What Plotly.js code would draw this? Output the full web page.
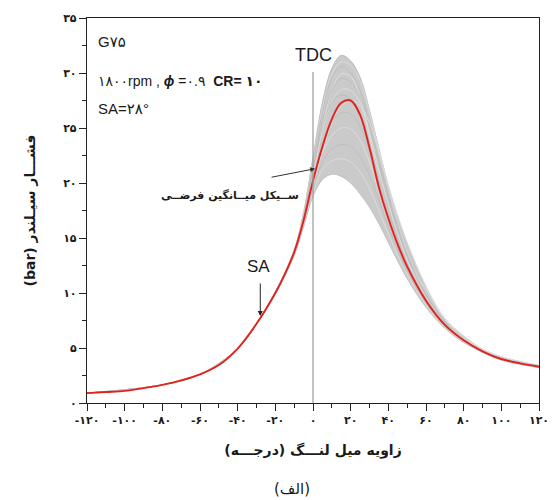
<!DOCTYPE html>
<html>
<head>
<meta charset="utf-8">
<script src="https://cdn.plot.ly/plotly-3.0.1.min.js"></script>
<style>html,body{margin:0;padding:0;background:#fff;}#chart{width:554px;height:500px;}</style>
</head>
<body>
<div id="chart"></div>
<script>
// ---- data ----
const angleMean = [-120,-110,-100,-90,-80,-70,-60,-50,-40,-30,-20,-15,-10,-5,0,5,10,15,20,25,30,35,40,45,50,60,70,80,90,100,110,120];
const pressureMean = [0.9,1.0,1.1,1.35,1.65,2.05,2.6,3.45,4.95,7.2,10.0,11.7,13.7,16.6,20.2,23.3,25.8,27.3,27.5,26.2,23.2,19.6,16.8,14.4,12.4,9.3,7.1,5.7,4.7,4.0,3.6,3.3];

const angleCycle = [-120,-80,-60,-40,-30,-20,-10,-5,0,5,10,15,20,25,30,35,40,45,50,60,70,80,90,100,120];
const cycle01 = [0.9,1.65,2.6,4.95,7.2,10.1,13.9,17.3,22.3,27.3,30.4,31.6,31.1,29.6,26.6,23.1,19.7,16.6,13.9,10.1,7.6,6.0,4.9,4.2,3.4];
const cycle02 = [0.9,1.65,2.6,4.95,7.2,10.1,13.8,17.1,22.0,26.8,29.9,31.0,30.7,29.3,26.4,23.0,19.6,16.5,13.8,10.0,7.6,6.0,4.9,4.2,3.4];
const cycle03 = [0.9,1.65,2.6,4.95,7.2,10.1,13.8,17.0,21.8,26.5,29.6,30.6,30.0,28.4,25.5,22.1,18.9,16.0,13.5,9.9,7.5,5.9,4.8,4.1,3.4];
const cycle04 = [0.9,1.65,2.6,4.95,7.2,10.0,13.7,16.6,20.6,25.0,28.4,29.9,29.7,27.8,24.2,20.6,17.3,14.5,12.8,10.3,7.7,6.1,4.9,4.2,3.4];
const cycle05 = [0.9,1.65,2.6,4.95,7.2,10.0,13.7,16.8,21.3,25.6,28.4,29.5,29.2,27.8,25.0,21.6,18.5,15.7,13.3,9.8,7.4,5.9,4.8,4.1,3.4];
const cycle06 = [0.9,1.65,2.6,4.95,7.2,10.0,13.7,16.6,20.8,24.8,27.4,28.5,28.4,27.3,24.6,21.2,18.1,15.4,13.0,9.6,7.3,5.8,4.8,4.1,3.3];
const cycle07 = [0.9,1.65,2.6,4.95,7.2,10.0,13.7,16.7,21.0,25.0,27.3,28.0,27.6,26.3,23.6,20.4,17.5,14.9,12.7,9.5,7.3,5.8,4.8,4.1,3.3];
const cycle08 = [0.9,1.65,2.6,4.95,7.2,10.0,13.6,16.4,20.0,23.0,25.5,27.0,27.5,27.0,25.5,22.8,19.8,17.0,14.6,10.6,7.6,5.9,4.8,4.1,3.3];
const cycle09 = [0.9,1.65,2.6,4.95,7.2,10.0,13.6,16.4,20.3,23.6,25.6,26.4,26.3,25.2,22.9,20.0,17.2,14.7,12.6,9.4,7.2,5.8,4.7,4.0,3.3];
const cycle10 = [0.9,1.65,2.6,4.95,7.2,10.0,13.6,16.3,19.8,22.7,24.3,25.0,24.9,23.9,21.9,19.2,16.6,14.3,12.3,9.2,7.1,5.7,4.7,4.0,3.3];
const cycle11 = [0.9,1.65,2.6,4.95,7.2,10.0,13.5,16.2,19.4,21.9,23.1,23.5,23.3,22.4,20.7,18.4,16.0,13.9,12.0,9.1,7.0,5.6,4.7,4.0,3.3];
const cycle12 = [0.9,1.65,2.6,4.95,7.2,9.9,13.5,16.1,19.1,21.2,22.0,22.2,21.9,21.0,19.5,17.5,15.4,13.4,11.7,8.9,6.9,5.6,4.6,3.9,3.3];
const cycle13 = [0.9,1.65,2.6,4.95,7.2,9.9,13.4,16.0,18.8,20.3,20.8,20.6,20.0,19.0,17.8,16.3,14.6,12.9,11.3,8.7,6.8,5.5,4.6,3.9,3.2];
const grayCycles = [cycle01,cycle02,cycle03,cycle04,cycle05,cycle06,cycle07,cycle08,cycle09,cycle10,cycle11,cycle12,cycle13];

const xTickValues = [-120,-100,-80,-60,-40,-20,0,20,40,60,80,100,120];
const xTickLabels = ['-۱۲۰','-۱۰۰','-۸۰','-۶۰','-۴۰','-۲۰','۰','۲۰','۴۰','۶۰','۸۰','۱۰۰','۱۲۰'];
const yTickValues = [0,5,10,15,20,25,30,35];
const yTickLabels = ['۰','۵','۱۰','۱۵','۲۰','۲۵','۳۰','۳۵'];

// ---- traces ----
const upperEnv = angleCycle.map((_, i) => Math.max(...grayCycles.map(c => c[i])));
const lowerEnv = angleCycle.map((_, i) => Math.min(...grayCycles.map(c => c[i])));

const traces = [];
traces.push({x: angleCycle, y: lowerEnv, mode: 'lines', line: {color: '#d6d6d6', width: 0.6, shape: 'spline'}, hoverinfo: 'skip', showlegend: false});
traces.push({x: angleCycle, y: upperEnv, mode: 'lines', fill: 'tonexty', fillcolor: '#cacaca', line: {color: '#c4c4c4', width: 0.8, shape: 'spline'}, hoverinfo: 'skip', showlegend: false});
grayCycles.forEach((c, k) => {
  traces.push({x: angleCycle, y: c, mode: 'lines', line: {color: k % 2 ? '#e4e4e4' : '#b9b9b9', width: 0.7, shape: 'spline'}, hoverinfo: 'skip', showlegend: false});
});
traces.push({x: angleMean, y: pressureMean, mode: 'lines', line: {color: '#e0231f', width: 1.9, shape: 'spline', smoothing: 1}, showlegend: false});

const latin = 'Liberation Sans, Arial, DejaVu Sans, sans-serif';
const txt = '#1a1a1a';

const layout = {
  width: 554, height: 500,
  margin: {l: 87, r: 15, t: 18, b: 97},
  paper_bgcolor: '#fff', plot_bgcolor: '#fff',
  showlegend: false,
  xaxis: {
    range: [-120, 120], tickmode: 'array', tickvals: xTickValues, ticktext: xTickLabels,
    ticks: 'outside', ticklen: 7, tickwidth: 1, tickcolor: '#222',
    minor: {tickmode: 'linear', tick0: -120, dtick: 10, ticks: 'outside', ticklen: 4, tickcolor: '#222'},
    showline: true, linecolor: '#222', linewidth: 1.2, mirror: true,
    showgrid: false, zeroline: false,
    tickfont: {family: 'DejaVu Sans, sans-serif', size: 11, color: txt, weight: 'bold'},
    title: {text: 'زاویه میل لنـــگ (درجـــه)', font: {family: 'DejaVu Sans, sans-serif', size: 14, color: txt, weight: 'bold'}, standoff: 18},
    automargin: false
  },
  yaxis: {
    range: [0, 35], tickmode: 'array', tickvals: yTickValues, ticktext: yTickLabels,
    ticks: 'outside', ticklen: 7, tickwidth: 1, tickcolor: '#222',
    minor: {tickmode: 'linear', tick0: 0, dtick: 2.5, ticks: 'outside', ticklen: 4, tickcolor: '#222'},
    showline: true, linecolor: '#222', linewidth: 1.2, mirror: true,
    showgrid: false, zeroline: false,
    tickfont: {family: 'DejaVu Sans, sans-serif', size: 11, color: txt, weight: 'bold'},
    title: {text: '(bar) فشـــار سیـلندر', font: {family: 'DejaVu Sans, sans-serif', size: 14, color: txt, weight: 'bold'}, standoff: 24},
    automargin: false
  },
  shapes: [
    {type: 'line', xref: 'x', yref: 'y', x0: 0, x1: 0, y0: 0, y1: 30.1, line: {color: '#9a9a9a', width: 1.2}, layer: 'above'}
  ],
  annotations: [
    {xref: 'x', yref: 'y', x: 0, y: 31.6, text: 'TDC', showarrow: false, font: {family: latin, size: 18, color: txt}, xanchor: 'center', yanchor: 'middle'},
    {xref: 'x', yref: 'y', x: -29, y: 12.4, text: 'SA', showarrow: false, font: {family: latin, size: 17, color: txt}, xanchor: 'center', yanchor: 'middle'},
    {xref: 'x', yref: 'y', x: -28, y: 7.9, ax: -28, ay: 11.0, axref: 'x', ayref: 'y', text: '', showarrow: true, arrowhead: 2, arrowsize: 1, arrowwidth: 1, arrowcolor: '#222'},
    {xref: 'x', yref: 'y', x: 1.2, y: 21.3, ax: -22.8, ay: 20.5, axref: 'x', ayref: 'y', text: '', showarrow: true, arrowhead: 2, arrowsize: 1, arrowwidth: 1, arrowcolor: '#333'},
    {xref: 'x', yref: 'y', x: -44, y: 18.9, text: 'ســیکل میــانگین فرضــی', showarrow: false, font: {family: 'DejaVu Sans, sans-serif', size: 11, color: txt, weight: 'bold'}, xanchor: 'center', yanchor: 'middle'},
    {xref: 'x', yref: 'y', x: -115, y: 32.9, text: 'G۷۵', showarrow: false, font: {family: latin, size: 15, color: txt}, xanchor: 'left', yanchor: 'middle'},
    {xref: 'x', yref: 'y', x: -115, y: 29.3, text: '۱۸۰۰rpm , <b><i>ϕ</i></b> =۰.۹  <b>CR= ۱۰</b>', showarrow: false, font: {family: latin, size: 14, color: txt}, xanchor: 'left', yanchor: 'middle'},
    {xref: 'x', yref: 'y', x: -115, y: 26.8, text: 'SA=۲۸°', showarrow: false, font: {family: latin, size: 15, color: txt}, xanchor: 'left', yanchor: 'middle'},
    {xref: 'paper', yref: 'paper', x: 0.4535, y: -0.2234, text: '(الف)', showarrow: false, font: {family: 'DejaVu Sans, sans-serif', size: 15, color: txt}, xanchor: 'center', yanchor: 'middle'}
  ]
};

Plotly.newPlot('chart', traces, layout, {displayModeBar: false, staticPlot: true});
</script>
</body>
</html>
